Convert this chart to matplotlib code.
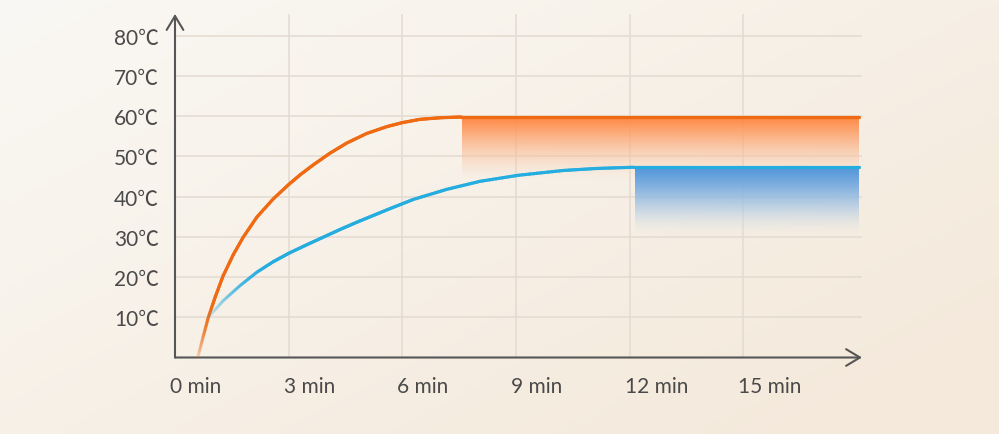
import numpy as np
import matplotlib
matplotlib.use("Agg")
import matplotlib.pyplot as plt
from matplotlib.collections import LineCollection
from matplotlib.colors import to_rgb
import matplotlib.transforms as mtransforms

plt.rcParams['font.family'] = ['Lato', 'Noto Sans CJK SC', 'DejaVu Sans']

# values
x_ticks = [0, 3, 6, 9, 12, 15]
x_labels = ['0 min', '3 min', '6 min', '9 min', '12 min', '15 min']
y_ticks = [10, 20, 30, 40, 50, 60, 70, 80]
y_labels = ['10℃', '20℃', '30℃', '40℃', '50℃', '60℃', '70℃', '80℃']

orange_t = [0.6, 0.75, 0.88, 1.06, 1.27, 1.54, 1.80, 2.16, 2.59, 3.0, 3.3, 3.65,
            4.09, 4.53, 5.06, 5.59, 6.0, 6.46, 6.99, 7.56, 18.05]
orange_v = [0, 5.4, 10, 15, 20.3, 25.6, 29.9, 34.9, 39.4, 43.0, 45.4, 47.9,
            50.8, 53.3, 55.7, 57.4, 58.4, 59.2, 59.6, 59.8, 59.8]

blue_t = [0.88, 1.27, 1.72, 2.16, 2.59, 3.0, 3.47, 3.91, 4.35, 4.79, 5.23, 5.67,
          6.29, 7.17, 8.05, 9.06, 10.25, 11.13, 12.1, 18.05]
blue_v = [10, 14.1, 17.9, 21.2, 23.8, 25.9, 28.0, 29.9, 31.8, 33.6, 35.3, 37.0,
          39.3, 41.8, 43.8, 45.3, 46.5, 47.0, 47.3, 47.3]

# holding bands: x start, x end, top, where the fade ends
orange_band = [7.58, 18.05, 59.8, 44.4]
blue_band = [12.14, 18.05, 47.3, 30.7]

ORANGE = '#ef6a12'
BLUE = '#25addf'
AXIS = '#565656'
TEXT = '#4a4a4a'
GRID = '#e3dbd2'


def faded_line(ax, t, v, color, t0, t1, lw, amin):
    # split each straight piece so the start of the curve can fade in
    segs, alphas = [], []
    for i in range(len(t) - 1):
        n = 12
        for k in range(n):
            a = k / n
            b = (k + 1) / n
            p0 = (t[i] + (t[i + 1] - t[i]) * a, v[i] + (v[i + 1] - v[i]) * a)
            p1 = (t[i] + (t[i + 1] - t[i]) * b, v[i] + (v[i + 1] - v[i]) * b)
            segs.append([p0, p1])
            s = np.clip(((p0[0] + p1[0]) / 2 - t0) / (t1 - t0), 0, 1)
            alphas.append(amin + (1 - amin) * s)
    rgb = to_rgb(color)
    cols = [(rgb[0], rgb[1], rgb[2], a) for a in alphas]
    lc = LineCollection(segs, colors=cols, linewidths=lw, capstyle='round',
                        joinstyle='round', zorder=4)
    ax.add_collection(lc)


def band(ax, b, top_rgb, bottom_rgb, power):
    h = 200
    s = np.linspace(0, 1, h)[:, None]
    img = np.zeros((h, 2, 4))
    top = np.array(top_rgb) / 255
    bot = np.array(bottom_rgb) / 255
    for c in range(3):
        img[:, :, c] = top[c] + (bot[c] - top[c]) * s
    img[:, :, 3] = 1 - s ** power
    ax.imshow(img, extent=(b[0], b[1], b[3], b[2]), aspect='auto',
              interpolation='bilinear', zorder=3, origin='upper')


fig = plt.figure(figsize=(9.99, 4.35), dpi=100)

# warm paper background
bg = fig.add_axes([0, 0, 1, 1], zorder=-10)
gx = np.linspace(0, 1, 200)[None, :]
gy = np.linspace(0, 1, 100)[:, None]
g = np.clip(0.6 * gx + 0.5 * gy, 0, 1)
c0 = np.array([250, 248, 244]) / 255
c1 = np.array([244, 233, 219]) / 255
bgimg = c0 + (c1 - c0) * g[:, :, None]
bg.imshow(bgimg, aspect='auto', extent=(0, 1, 0, 1), origin='upper')
bg.axis('off')

ax = fig.add_axes([175 / 999, (435 - 358.5) / 435, 687 / 999, 343.5 / 435])
ax.patch.set_alpha(0)

band(ax, orange_band, (255, 138, 70), (250, 215, 190), 1.3)
band(ax, blue_band, (82, 150, 220), (225, 230, 232), 2.2)

faded_line(ax, orange_t, orange_v, ORANGE, 0.6, 1.05, 2.3, 0.1)
faded_line(ax, blue_t, blue_v, BLUE, 0.88, 2.7, 2.3, 0.06)

ax.set_xlim(0, 18.13)
ax.set_ylim(0, 85.4)

ax.set_xticks(x_ticks, x_labels)
ax.set_yticks(y_ticks, y_labels)
ax.tick_params(length=0, labelsize=15, colors=TEXT)
ax.tick_params(axis='y', pad=11.5)
ax.tick_params(axis='x', pad=13)
shift = mtransforms.ScaledTranslation(-5 / 100, 0, fig.dpi_scale_trans)
for lab in ax.get_xticklabels():
    lab.set_ha('left')
    lab.set_transform(lab.get_transform() + shift)

ax.grid(True, color=GRID, lw=1.1, zorder=0)
ax.set_axisbelow(True)
for s in ax.spines.values():
    s.set_visible(False)

# axes with open arrow heads
ax.annotate('', xy=(0, 1), xytext=(0, 0), xycoords='axes fraction',
            arrowprops=dict(arrowstyle='->,head_length=0.5,head_width=0.3',
                            color=AXIS, lw=1.5, mutation_scale=20,
                            shrinkA=0, shrinkB=0))
ax.annotate('', xy=(1, 0), xytext=(0, 0), xycoords='axes fraction',
            arrowprops=dict(arrowstyle='->,head_length=0.5,head_width=0.3',
                            color=AXIS, lw=1.5, mutation_scale=20,
                            shrinkA=0, shrinkB=0))

fig.savefig('out.png', dpi=100)
